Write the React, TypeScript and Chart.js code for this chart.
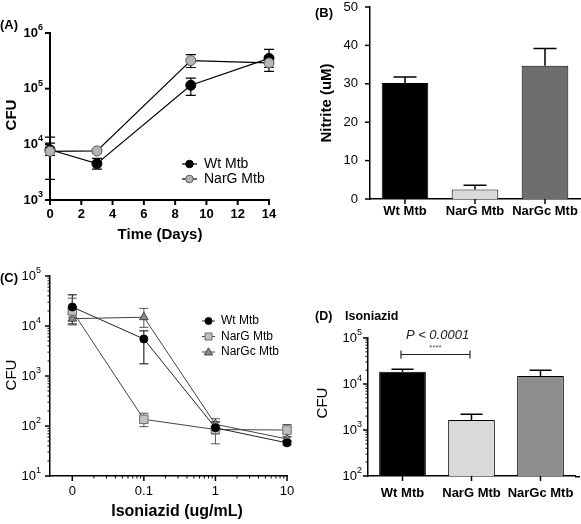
import React, { useEffect, useRef } from 'react';
import { Chart, registerables } from 'chart.js';
Chart.register(...registerables);

const CW = 581;
const CH = 524;
const FONT = '"Liberation Sans", Arial, Helvetica, sans-serif';

// ---------- Panel A: growth ----------
const daysA = [0, 3, 9, 14];
const wtA = [8000, 4500, 115000, 350000];
const wtHiA = [13500, 5600, 155000, 510000];
const wtLoA = [2350, 3600, 76000, 240000];
const nargA = [7500, 7600, 320000, 290000];
const nargHiA = [10500, 8200, 410000, 380000];
const nargLoA = [6300, 7000, 240000, 205000];
const xTicksA = [0, 2, 4, 6, 8, 10, 12, 14];
const yExpA = [3, 4, 5, 6];

// ---------- Panel B: nitrite ----------
const strains = ['Wt Mtb', 'NarG Mtb', 'NarGc Mtb'];
const nitriteB = [30.2, 2.5, 34.7];
const nitriteHiB = [31.8, 3.6, 39.2];
const yTicksB = [0, 10, 20, 30, 40, 50];

// ---------- Panel C: isoniazid dose ----------
const dosesC = [0, 0.1, 1, 10];
const doseLabelsC = ['0', '0.1', '1', '10'];
const ZERO_AT = 0.01; // where dose 0 sits on the log axis
const wtC = [24000, 5500, 92, 46];
const wtHiC = [42000, 8000, 120, 50];
const wtLoC = [11000, 1750, 70, 42];
const nargC = [20000, 136, 85, 83];
const nargHiC = [36000, 180, 120, 107];
const nargLoC = [15000, 97, 44, 62];
const nargcC = [14000, 15000, 108, 55];
const nargcHiC = [18000, 22500, 140, 60];
const nargcLoC = [10500, 9400, 85, 50];
const yExpC = [1, 2, 3, 4, 5];

// ---------- Panel D: isoniazid CFU ----------
const cfuD = [18500, 1650, 15000];
const cfuHiD = [21000, 2200, 20000];
const yExpD = [2, 3, 4, 5];

const dosePos = (d: number) => (d === 0 ? ZERO_AT : d);

const font = (size: number, weight = '', style = '') =>
  [style, weight, `${size}px`, FONT].filter(Boolean).join(' ');

const YW = 30;
const XH = 20;
function frame(l: number, t: number, r: number, b: number) {
  return { padding: { left: l - YW, top: t, right: CW - r, bottom: CH - b - XH } };
}
const fitY = (s: any) => {
  s.width = YW;
  s.paddingLeft = 0; s.paddingRight = 0; s.paddingTop = 0; s.paddingBottom = 0;
};
const fitX = (s: any) => {
  s.height = XH;
  s.paddingLeft = 0; s.paddingRight = 0; s.paddingTop = 0; s.paddingBottom = 0;
};
function axis(type: string, fit: any, bw: number, extra: any = {}) {
  return {
    type,
    afterFit: fit,
    ticks: { display: false },
    grid: { display: false },
    border: { display: true, color: '#000', width: bw },
    ...extra,
  };
}

function text(ctx: CanvasRenderingContext2D, s: string, x: number, y: number, f: string,
  align: CanvasTextAlign = 'center', rot = 0, color = '#000') {
  ctx.save();
  ctx.translate(x, y);
  if (rot) ctx.rotate(rot);
  ctx.font = f;
  ctx.fillStyle = color;
  ctx.textAlign = align;
  ctx.textBaseline = 'middle';
  ctx.fillText(s, 0, 0);
  ctx.restore();
}

function pow10(ctx: CanvasRenderingContext2D, exp: number, xr: number, y: number, size: number, bold: boolean) {
  const w = bold ? 'bold' : '';
  const f1 = font(size, w);
  const f2 = font(Math.round(size * 0.72), w);
  ctx.save();
  ctx.fillStyle = '#000';
  ctx.textBaseline = 'middle';
  ctx.textAlign = 'left';
  ctx.font = f2;
  const we = ctx.measureText(String(exp)).width;
  ctx.font = f1;
  const wb = ctx.measureText('10').width;
  ctx.fillText('10', xr - we - wb, y);
  ctx.font = f2;
  ctx.fillText(String(exp), xr - we, y - size * 0.42);
  ctx.restore();
}

function line(ctx: CanvasRenderingContext2D, x1: number, y1: number, x2: number, y2: number, w = 1.5, c = '#000') {
  ctx.save();
  ctx.strokeStyle = c;
  ctx.lineWidth = w;
  ctx.beginPath();
  ctx.moveTo(x1, y1);
  ctx.lineTo(x2, y2);
  ctx.stroke();
  ctx.restore();
}

function errBar(ctx: CanvasRenderingContext2D, x: number, yHi: number, yLo: number, half: number, color: string, w: number) {
  ctx.save();
  ctx.strokeStyle = color;
  ctx.lineWidth = w;
  ctx.beginPath();
  ctx.moveTo(x, yHi); ctx.lineTo(x, yLo);
  ctx.moveTo(x - half, yHi); ctx.lineTo(x + half, yHi);
  ctx.moveTo(x - half, yLo); ctx.lineTo(x + half, yLo);
  ctx.stroke();
  ctx.restore();
}

function errTop(ctx: CanvasRenderingContext2D, x: number, yBar: number, yHi: number, half: number) {
  ctx.save();
  ctx.strokeStyle = '#000';
  ctx.lineWidth = 1.5;
  ctx.beginPath();
  ctx.moveTo(x, yBar); ctx.lineTo(x, yHi);
  ctx.moveTo(x - half, yHi); ctx.lineTo(x + half, yHi);
  ctx.stroke();
  ctx.restore();
}

function marker(ctx: CanvasRenderingContext2D, kind: string, x: number, y: number, r: number, fill: string, stroke: string) {
  ctx.save();
  ctx.fillStyle = fill;
  ctx.strokeStyle = stroke;
  ctx.lineWidth = 1;
  ctx.beginPath();
  if (kind === 'circle') ctx.arc(x, y, r, 0, Math.PI * 2);
  else if (kind === 'rect') ctx.rect(x - r, y - r, 2 * r, 2 * r);
  else {
    ctx.moveTo(x, y - r);
    ctx.lineTo(x + r, y + r * 0.7);
    ctx.lineTo(x - r, y + r * 0.7);
    ctx.closePath();
  }
  ctx.fill();
  ctx.stroke();
  ctx.restore();
}

function logMinors(e0: number, e1: number) {
  const out: number[] = [];
  for (let e = e0; e < e1; e++) for (let m = 2; m <= 9; m++) out.push(m * Math.pow(10, e));
  return out;
}

export default function App() {
  const refA = useRef<HTMLCanvasElement>(null);
  const refB = useRef<HTMLCanvasElement>(null);
  const refC = useRef<HTMLCanvasElement>(null);
  const refD = useRef<HTMLCanvasElement>(null);

  useEffect(() => {
    const charts: Chart[] = [];

    // ---------------- A ----------------
    charts.push(new Chart(refA.current as HTMLCanvasElement, {
      type: 'line',
      data: {
        datasets: [
          {
            label: 'Wt Mtb',
            data: daysA.map((d, i) => ({ x: d, y: wtA[i] })),
            borderColor: '#000', borderWidth: 1.2,
            pointRadius: 5, pointBackgroundColor: '#000', pointBorderColor: '#000', pointBorderWidth: 1,
            clip: false, order: 1,
          } as any,
          {
            label: 'NarG Mtb',
            data: daysA.map((d, i) => ({ x: d, y: nargA[i] })),
            borderColor: '#000', borderWidth: 1.2,
            pointRadius: 5, pointBackgroundColor: '#b5b5b5', pointBorderColor: '#555', pointBorderWidth: 1,
            clip: false, order: 0,
          } as any,
        ],
      },
      options: {
        animation: false, responsive: false, events: [],
        layout: frame(50, 33, 269, 200),
        plugins: { legend: { display: false }, tooltip: { enabled: false } },
        scales: {
          x: axis('linear', fitX, 2, { min: 0, max: 14 }),
          y: axis('logarithmic', fitY, 2, { min: 1e3, max: 1e6 }),
        } as any,
      },
      plugins: [{
        id: 'decorA',
        beforeDatasetsDraw(chart: any) {
          const ctx = chart.ctx; const ys = chart.scales.y;
          const sets: [number[], number[], number][] = [[wtHiA, wtLoA, 0], [nargHiA, nargLoA, 1]];
          sets.forEach(([hi, lo, di]) => {
            chart.getDatasetMeta(di).data.forEach((pt: any, i: number) =>
              errBar(ctx, pt.x, ys.getPixelForValue(hi[i]), ys.getPixelForValue(lo[i]), 5, '#000', 1.2));
          });
        },
        afterDraw(chart: any) {
          const ctx = chart.ctx; const { left, bottom } = chart.chartArea;
          const xs = chart.scales.x; const ys = chart.scales.y;
          yExpA.forEach((e) => {
            const py = ys.getPixelForValue(Math.pow(10, e));
            line(ctx, left - 5, py, left, py, 2);
            pow10(ctx, e, left - 7, py, 13, true);
          });
          xTicksA.forEach((t) => {
            const px = xs.getPixelForValue(t);
            line(ctx, px, bottom, px, bottom + 5, 2);
            text(ctx, String(t), px, bottom + 14, font(13, 'bold'));
          });
          text(ctx, 'CFU', 12, 115, font(15, 'bold'), 'center', -Math.PI / 2);
          text(ctx, 'Time (Days)', 160, 235, font(15, 'bold'));
          text(ctx, '(A)', 0, 25, font(13, 'bold'), 'left');
          // legend
          const rows: [string, string, string, number][] = [['Wt Mtb', '#000', '#000', 164], ['NarG Mtb', '#b5b5b5', '#555', 179]];
          rows.forEach(([lab, fill, st, y]) => {
            line(ctx, 182, y, 197, y, 1.2);
            marker(ctx, 'circle', 189.5, y, 3.8, fill, st);
            text(ctx, lab, 204, y, font(14), 'left');
          });
        },
      } as any],
    }));

    // ---------------- B ----------------
    charts.push(new Chart(refB.current as HTMLCanvasElement, {
      type: 'bar',
      data: {
        labels: strains,
        datasets: [{
          label: 'Nitrite',
          data: nitriteB,
          backgroundColor: ['#000000', '#d9d9d9', '#6e6e6e'],
          borderColor: '#000', borderWidth: 1,
          barPercentage: 0.666, categoryPercentage: 1,
        }],
      },
      options: {
        animation: false, responsive: false, events: [],
        layout: frame(370, 7, 580, 199),
        plugins: { legend: { display: false }, tooltip: { enabled: false } },
        scales: {
          x: axis('category', fitX, 1.5, { offset: true }),
          y: axis('linear', fitY, 1.5, { min: 0, max: 50 }),
        } as any,
      },
      plugins: [{
        id: 'decorB',
        afterDatasetsDraw(chart: any) {
          const ctx = chart.ctx; const ys = chart.scales.y;
          chart.getDatasetMeta(0).data.forEach((b: any, i: number) =>
            errTop(ctx, b.x, b.y, ys.getPixelForValue(nitriteHiB[i]), 11.5));
        },
        afterDraw(chart: any) {
          const ctx = chart.ctx; const { left, bottom } = chart.chartArea;
          const ys = chart.scales.y; const xs = chart.scales.x;
          yTicksB.forEach((t) => {
            const py = ys.getPixelForValue(t);
            line(ctx, left - 5, py, left, py, 1.5);
            text(ctx, String(t), left - 12, py, font(13), 'right');
          });
          strains.forEach((s, i) => {
            const px = xs.getPixelForValue(i);
            line(ctx, px, bottom, px, bottom + 5, 1.5);
            text(ctx, s, px, bottom + 12, font(13, 'bold'));
          });
          text(ctx, 'Nitrite (uM)', 327, 103, font(15, 'bold'), 'center', -Math.PI / 2);
          text(ctx, '(B)', 315, 13, font(13, 'bold'), 'left');
        },
      } as any],
    }));

    // ---------------- C ----------------
    const cSets = [
      { label: 'Wt Mtb', vals: wtC, hi: wtHiC, lo: wtLoC, style: 'circle', r: 4, bg: '#000', bd: '#000', line: '#222', err: '#000' },
      { label: 'NarG Mtb', vals: nargC, hi: nargHiC, lo: nargLoC, style: 'rect', r: 6, bg: '#c0c0c0', bd: '#6a6a6a', line: '#444', err: '#555' },
      { label: 'NarGc Mtb', vals: nargcC, hi: nargcHiC, lo: nargcLoC, style: 'triangle', r: 5, bg: '#8a8a8a', bd: '#444', line: '#444', err: '#555' },
    ];
    charts.push(new Chart(refC.current as HTMLCanvasElement, {
      type: 'line',
      data: {
        datasets: cSets.map((s) => ({
          label: s.label,
          data: dosesC.map((d, i) => ({ x: dosePos(d), y: s.vals[i] })),
          borderColor: s.line, borderWidth: 1,
          pointStyle: s.style, pointRadius: s.r,
          pointBackgroundColor: s.bg, pointBorderColor: s.bd, pointBorderWidth: 1,
          clip: false,
        })) as any,
      },
      options: {
        animation: false, responsive: false, events: [],
        layout: frame(50, 276, 287, 476),
        plugins: { legend: { display: false }, tooltip: { enabled: false } },
        scales: {
          x: axis('logarithmic', fitX, 1.5, { min: 0.00488, max: 10 }),
          y: axis('logarithmic', fitY, 1.5, { min: 10, max: 1e5 }),
        } as any,
      },
      plugins: [{
        id: 'decorC',
        beforeDatasetsDraw(chart: any) {
          const ctx = chart.ctx; const ys = chart.scales.y;
          cSets.forEach((s, di) => {
            chart.getDatasetMeta(di).data.forEach((pt: any, i: number) =>
              errBar(ctx, pt.x, ys.getPixelForValue(s.hi[i]), ys.getPixelForValue(s.lo[i]), 4.5, s.err, 1));
          });
        },
        afterDraw(chart: any) {
          const ctx = chart.ctx; const { left, bottom } = chart.chartArea;
          const xs = chart.scales.x; const ys = chart.scales.y;
          yExpC.forEach((e) => {
            const py = ys.getPixelForValue(Math.pow(10, e));
            line(ctx, left - 5, py, left, py, 1.5);
            pow10(ctx, e, left - 9, py, 13, false);
          });
          logMinors(1, 5).forEach((v) => {
            const py = ys.getPixelForValue(v);
            line(ctx, left - 2.5, py, left, py, 1);
          });
          dosesC.forEach((d, i) => {
            const px = xs.getPixelForValue(dosePos(d));
            line(ctx, px, bottom, px, bottom + 5, 1.5);
            text(ctx, doseLabelsC[i], px, bottom + 15, font(13));
          });
          logMinors(-2, 1).forEach((v) => {
            const px = xs.getPixelForValue(v);
            line(ctx, px, bottom, px, bottom + 2.5, 1);
          });
          text(ctx, 'CFU', 12, 375, font(15), 'center', -Math.PI / 2);
          text(ctx, 'Isoniazid (ug/mL)', 177, 512, font(16, 'bold'));
          text(ctx, '(C)', 0, 278, font(13, 'bold'), 'left');
          const ly = [321, 336.5, 352];
          cSets.forEach((s, i) => {
            line(ctx, 202, ly[i], 215, ly[i], 1, s.line);
            marker(ctx, s.style, 208.5, ly[i], s.style === 'rect' ? 3.5 : s.style === 'triangle' ? 4.2 : 3.5, s.bg, s.bd);
            text(ctx, s.label, 221, ly[i], font(12), 'left');
          });
        },
      } as any],
    }));

    // ---------------- D ----------------
    charts.push(new Chart(refD.current as HTMLCanvasElement, {
      type: 'bar',
      data: {
        labels: strains,
        datasets: [{
          label: 'CFU',
          data: cfuD,
          base: 100,
          backgroundColor: ['#000000', '#d9d9d9', '#8e8e8e'],
          borderColor: '#000', borderWidth: 1,
          barPercentage: 0.677, categoryPercentage: 1,
        } as any],
      },
      options: {
        animation: false, responsive: false, events: [],
        layout: frame(368, 338, 575, 476),
        plugins: { legend: { display: false }, tooltip: { enabled: false } },
        scales: {
          x: axis('category', fitX, 1.5, { offset: true }),
          y: axis('logarithmic', fitY, 1.5, { min: 100, max: 1e5 }),
        } as any,
      },
      plugins: [{
        id: 'decorD',
        afterDatasetsDraw(chart: any) {
          const ctx = chart.ctx; const ys = chart.scales.y;
          chart.getDatasetMeta(0).data.forEach((b: any, i: number) =>
            errTop(ctx, b.x, b.y, ys.getPixelForValue(cfuHiD[i]), 11));
        },
        afterDraw(chart: any) {
          const ctx = chart.ctx; const { left, right, bottom } = chart.chartArea;
          const xs = chart.scales.x; const ys = chart.scales.y;
          line(ctx, right, bottom + 0.75, 580, bottom + 0.75, 1.5);
          yExpD.forEach((e) => {
            const py = ys.getPixelForValue(Math.pow(10, e));
            line(ctx, left - 5, py, left, py, 1.5);
            pow10(ctx, e, left - 6, py, 13, false);
          });
          logMinors(2, 5).forEach((v) => {
            const py = ys.getPixelForValue(v);
            line(ctx, left - 2.5, py, left, py, 1);
          });
          strains.forEach((s, i) => {
            const px = xs.getPixelForValue(i);
            line(ctx, px, bottom, px, bottom + 5, 1.5);
            text(ctx, s, px, bottom + 17, font(13, 'bold'));
          });
          text(ctx, 'CFU', 323, 403, font(15), 'center', -Math.PI / 2);
          text(ctx, '(D)', 315, 317, font(12.5, 'bold'), 'left');
          text(ctx, 'Isoniazid', 345, 317, font(12.5, 'bold'), 'left');
          // significance bracket
          const m = chart.getDatasetMeta(0).data;
          const x1 = m[0].x - 1.5; const x2 = m[1].x - 1.5; const by = 354.5;
          line(ctx, x1, by, x2, by, 1.2, '#222');
          line(ctx, x1, by - 4, x1, by + 4, 1.2, '#222');
          line(ctx, x2, by - 4, x2, by + 4, 1.2, '#222');
          text(ctx, '****', (x1 + x2) / 2, 347.5, font(8), 'center', 0, '#555');
          text(ctx, 'P < 0.0001', (x1 + x2) / 2 + 2, 335, font(13, '', 'italic'), 'center', 0, '#222');
        },
      } as any],
    }));

    return () => charts.forEach((c) => c.destroy());
  }, []);

  const cv: React.CSSProperties = { position: 'absolute', left: 0, top: 0, width: CW, height: CH };
  return (
    <div style={{ position: 'absolute', left: 0, top: 0, width: CW, height: CH, background: '#fff', overflow: 'hidden' }}>
      <canvas ref={refA} width={CW} height={CH} style={cv} />
      <canvas ref={refB} width={CW} height={CH} style={cv} />
      <canvas ref={refC} width={CW} height={CH} style={cv} />
      <canvas ref={refD} width={CW} height={CH} style={cv} />
    </div>
  );
}
